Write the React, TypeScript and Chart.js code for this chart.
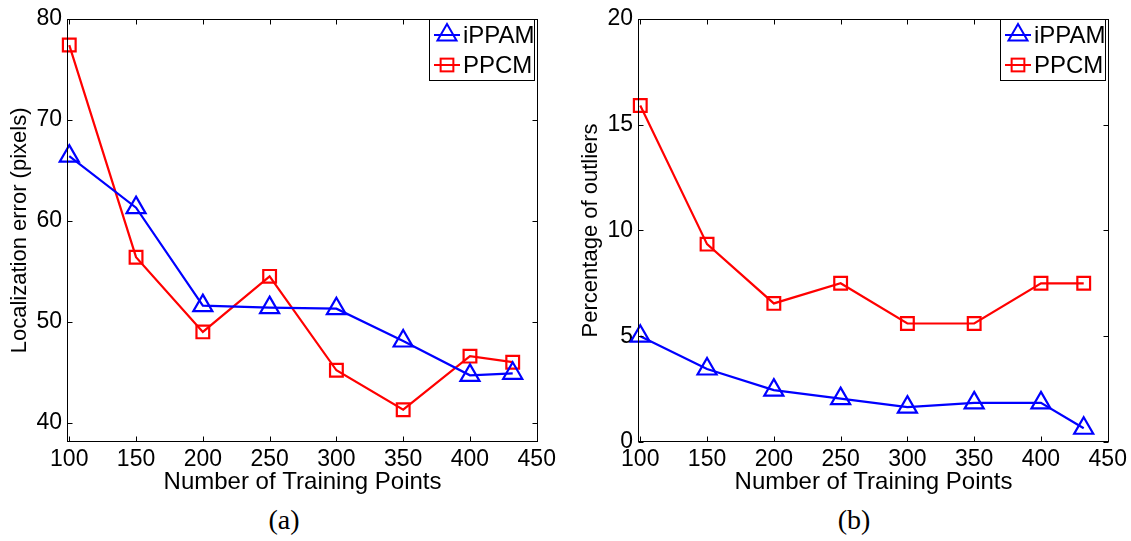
import React, { useEffect, useRef } from 'react';
import { Chart, registerables } from 'chart.js';

Chart.register(...registerables);

// ---- data ----
const trainingPoints = [100, 150, 200, 250, 300, 350, 400, 432];
const errorIPPAM = [66.4, 61.3, 51.6, 51.4, 51.3, 48.1, 44.7, 44.9];
const errorPPCM = [77.4, 56.4, 49.0, 54.5, 45.2, 41.3, 46.6, 46.0];
const outlierIPPAM = [5.0, 3.45, 2.45, 2.05, 1.65, 1.85, 1.85, 0.65];
const outlierPPCM = [15.9, 9.35, 6.55, 7.5, 5.6, 5.6, 7.5, 7.5];
const xTickValues = [100, 150, 200, 250, 300, 350, 400, 450];
const errorTicks = [40, 50, 60, 70, 80];
const outlierTicks = [0, 5, 10, 15, 20];
const seriesNames = ['iPPAM', 'PPCM'];
const xTitle = 'Number of Training Points';

const FONT = "'Liberation Sans', Arial, Helvetica, sans-serif";
const BLUE = '#0000ff';
const RED = '#ff0000';
const CW = 560;
const CH = 500;
const TRI_R = 11;
const SQ_R = 9;

function drawTriangle(ctx: CanvasRenderingContext2D, x: number, y: number, r: number) {
  ctx.beginPath();
  for (let i = 0; i < 3; i++) {
    const a = (i * 2 * Math.PI) / 3;
    const px = x + Math.sin(a) * r;
    const py = y - Math.cos(a) * r;
    if (i === 0) ctx.moveTo(px, py);
    else ctx.lineTo(px, py);
  }
  ctx.closePath();
  ctx.stroke();
}

function drawSquare(ctx: CanvasRenderingContext2D, x: number, y: number, r: number) {
  const s = Math.SQRT1_2 * r;
  ctx.strokeRect(x - s, y - s, 2 * s, 2 * s);
}

const framePlugin = {
  id: 'matlabFrame',
  afterDraw(chart: any) {
    const { ctx, chartArea } = chart;
    const { left, right, top, bottom } = chartArea;
    const xs = chart.scales.x;
    const ys = chart.scales.y;
    ctx.save();
    ctx.strokeStyle = '#000';
    ctx.lineWidth = 1;
    const L = Math.round(left) + 0.5;
    const R = Math.round(right) - 0.5;
    const T = Math.round(top) + 0.5;
    const B = Math.round(bottom) - 0.5;
    ctx.strokeRect(L, T, R - L, B - T);
    const tl = 5;
    ctx.beginPath();
    xs.ticks.forEach((t: any) => {
      const px = Math.round(xs.getPixelForValue(t.value)) + 0.5;
      ctx.moveTo(px, B);
      ctx.lineTo(px, B - tl);
      ctx.moveTo(px, T);
      ctx.lineTo(px, T + tl);
    });
    ys.ticks.forEach((t: any) => {
      const py = Math.round(ys.getPixelForValue(t.value)) + 0.5;
      ctx.moveTo(L, py);
      ctx.lineTo(L + tl, py);
      ctx.moveTo(R, py);
      ctx.lineTo(R - tl, py);
    });
    ctx.stroke();

    // legend
    const bx = 429.5, by = 19.5, bw = 105, bh = 61;
    ctx.fillStyle = '#fff';
    ctx.fillRect(bx, by, bw, bh);
    ctx.strokeStyle = '#000';
    ctx.strokeRect(bx, by, bw, bh);
    const rows = [
      { y: 35, color: BLUE, marker: 'tri', label: seriesNames[0] },
      { y: 65, color: RED, marker: 'sq', label: seriesNames[1] },
    ];
    ctx.font = `24px ${FONT}`;
    ctx.textBaseline = 'middle';
    ctx.textAlign = 'left';
    rows.forEach((row) => {
      ctx.strokeStyle = row.color;
      ctx.lineWidth = 2;
      ctx.beginPath();
      ctx.moveTo(434, row.y);
      ctx.lineTo(460, row.y);
      ctx.stroke();
      if (row.marker === 'tri') drawTriangle(ctx, 447, row.y, TRI_R);
      else drawSquare(ctx, 447, row.y, SQ_R);
      ctx.fillStyle = '#000';
      ctx.fillText(row.label, 463, row.y + 1);
    });
    ctx.restore();
  },
};

type PanelProps = {
  yLabel: string;
  yMin: number;
  yMax: number;
  yTicks: number[];
  s1: number[];
  s2: number[];
};

function Panel({ yLabel, yMin, yMax, yTicks, s1, s2 }: PanelProps) {
  const ref = useRef<HTMLCanvasElement | null>(null);
  useEffect(() => {
    if (!ref.current) return;
    const chart = new Chart(ref.current, {
      type: 'line',
      data: {
        datasets: [
          {
            label: seriesNames[0],
            data: trainingPoints.map((x, i) => ({ x, y: s1[i] })),
            borderColor: BLUE,
            backgroundColor: 'rgba(0,0,0,0)',
            borderWidth: 2.2,
            pointStyle: 'triangle',
            pointRadius: TRI_R,
            pointBorderWidth: 2.2,
            pointBorderColor: BLUE,
            pointBackgroundColor: 'rgba(0,0,0,0)',
            tension: 0,
            clip: false as any,
          },
          {
            label: seriesNames[1],
            data: trainingPoints.map((x, i) => ({ x, y: s2[i] })),
            borderColor: RED,
            backgroundColor: 'rgba(0,0,0,0)',
            borderWidth: 2.2,
            pointStyle: 'rect',
            pointRadius: SQ_R,
            pointBorderWidth: 2.2,
            pointBorderColor: RED,
            pointBackgroundColor: 'rgba(0,0,0,0)',
            tension: 0,
            clip: false as any,
          },
        ],
      },
      options: {
        animation: false,
        responsive: false,
        events: [],
        layout: { padding: { top: 16, right: CW - 539, left: 0, bottom: 0 } },
        plugins: { legend: { display: false }, tooltip: { enabled: false } },
        scales: {
          x: {
            type: 'linear',
            min: 98.3,
            max: 451,
            grid: { display: false, drawTicks: false },
            border: { display: false },
            afterBuildTicks: (scale: any) => {
              scale.ticks = xTickValues.map((v) => ({ value: v }));
            },
            afterFit: (scale: any) => {
              scale.height = CH - 442;
            },
            ticks: {
              autoSkip: false,
              maxRotation: 0,
              padding: 4,
              color: '#000',
              font: { family: FONT, size: 23 },
            },
            title: {
              display: true,
              text: xTitle,
              color: '#000',
              font: { family: FONT, size: 24 },
              padding: { top: 0, bottom: 3 },
            },
          },
          y: {
            type: 'linear',
            min: yMin,
            max: yMax,
            grid: { display: false, drawTicks: false },
            border: { display: false },
            afterBuildTicks: (scale: any) => {
              scale.ticks = yTicks.map((v) => ({ value: v }));
            },
            afterFit: (scale: any) => {
              scale.width = 67;
            },
            ticks: {
              padding: 5,
              color: '#000',
              font: { family: FONT, size: 23 },
            },
            title: {
              display: true,
              text: yLabel,
              color: '#000',
              font: { family: FONT, size: 22 },
              padding: { top: 7, bottom: 0 },
            },
          },
        },
      },
      plugins: [framePlugin],
    } as any);
    return () => chart.destroy();
  }, []);
  return <canvas ref={ref} width={CW} height={CH} style={{ width: CW, height: CH, display: 'block' }} />;
}

const captionStyle: React.CSSProperties = {
  position: 'absolute',
  top: 504,
  width: 100,
  textAlign: 'center',
  fontFamily: "'Liberation Serif', 'Times New Roman', serif",
  fontSize: 28,
  lineHeight: '32px',
  color: '#000',
};

export default function App() {
  return (
    <div style={{ position: 'fixed', left: 0, top: 0, width: 1131, height: 541, background: '#fff', overflow: 'hidden' }}>
      <div style={{ position: 'absolute', left: 0, top: 0 }}>
        <Panel yLabel="Localization error (pixels)" yMin={38.1} yMax={80} yTicks={errorTicks} s1={errorIPPAM} s2={errorPPCM} />
      </div>
      <div style={{ position: 'absolute', left: 571, top: 0 }}>
        <Panel yLabel="Percentage of outliers" yMin={0} yMax={20} yTicks={outlierTicks} s1={outlierIPPAM} s2={outlierPPCM} />
      </div>
      <div style={{ ...captionStyle, left: 234 }}>(a)</div>
      <div style={{ ...captionStyle, left: 804 }}>(b)</div>
    </div>
  );
}
